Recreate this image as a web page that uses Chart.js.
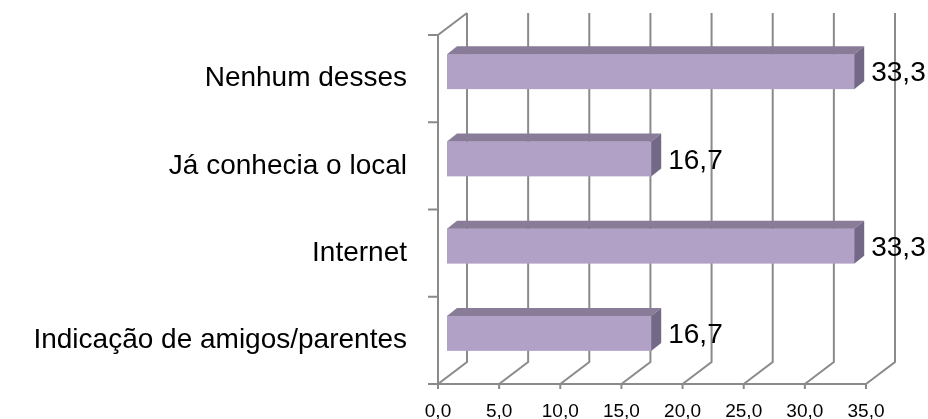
<!DOCTYPE html>
<html>
<head>
<meta charset="utf-8">
<script src="https://cdn.jsdelivr.net/npm/chart.js@4"></script>
<style>
  body { margin: 0; background: #fff; }
  canvas { display: block; }
</style>
</head>
<body>
<canvas id="chart" width="928" height="419"></canvas>
<script>
const categories = ["Nenhum desses", "Já conhecia o local", "Internet", "Indicação de amigos/parentes"];
const values = [33.3, 16.7, 33.3, 16.7];
const xTicks = [0, 5, 10, 15, 20, 25, 30, 35];

const fmt = v => v.toFixed(1).replace(".", ",");

// depth of the back wall, and where the bar box sits inside it
const DX = 29, DY = -22;
const BX = 9, BY = -7;
const SX = 10, SY = -8;
const gridColor = "#8a8a8a";

const depth3d = {
  id: "depth3d",
  beforeDatasetsDraw(chart) {
    const { ctx, chartArea: ca, scales } = chart;
    const xs = scales.x;
    ctx.save();
    ctx.strokeStyle = gridColor;
    ctx.lineWidth = 2;
    ctx.beginPath();
    xTicks.forEach(v => {
      const px = xs.getPixelForValue(v);
      ctx.moveTo(px + DX, ca.top + DY);
      ctx.lineTo(px + DX, ca.bottom + DY);
      ctx.lineTo(px, ca.bottom);
      ctx.moveTo(px, ca.bottom);
      ctx.lineTo(px, ca.bottom + 5);
    });
    // left wall and floor edge
    ctx.moveTo(ca.left + DX, ca.top + DY);
    ctx.lineTo(ca.left, ca.top);
    ctx.lineTo(ca.left, ca.bottom);
    ctx.lineTo(ca.right, ca.bottom);
    const band = (ca.bottom - ca.top) / categories.length;
    for (let i = 0; i <= categories.length; i++) {
      const y = ca.top + i * band;
      ctx.moveTo(ca.left - 10, y);
      ctx.lineTo(ca.left, y);
    }
    ctx.stroke();
    ctx.restore();
  },
  afterDatasetsDraw(chart) {
    const { ctx } = chart;
    const meta = chart.getDatasetMeta(0);
    ctx.save();
    meta.data.forEach((bar, i) => {
      const x0 = bar.base + BX, x1 = bar.x + BX;
      const top = bar.y - bar.height / 2 + BY, bot = bar.y + bar.height / 2 + BY;
      ctx.fillStyle = "#B2A1C7";
      ctx.fillRect(x0, top, x1 - x0, bot - top);
      ctx.fillStyle = "#887C99";
      ctx.beginPath();
      ctx.moveTo(x0, top);
      ctx.lineTo(x1, top);
      ctx.lineTo(x1 + SX, top + SY);
      ctx.lineTo(x0 + SX, top + SY);
      ctx.closePath();
      ctx.fill();
      ctx.fillStyle = "#736885";
      ctx.beginPath();
      ctx.moveTo(x1, top);
      ctx.lineTo(x1 + SX, top + SY);
      ctx.lineTo(x1 + SX, bot + SY);
      ctx.lineTo(x1, bot);
      ctx.closePath();
      ctx.fill();
      ctx.fillStyle = "#000";
      ctx.font = "28px 'Liberation Sans', sans-serif";
      ctx.textBaseline = "middle";
      ctx.textAlign = "left";
      ctx.fillText(fmt(values[i]), x1 + SX + 7, bar.y + BY + 2);
    });
    ctx.restore();
  }
};

const noPad = s => {
  s.paddingTop = 0;
  s.paddingBottom = 0;
  s.paddingLeft = 0;
  s.paddingRight = 0;
};

new Chart(document.getElementById("chart"), {
  type: "bar",
  data: {
    labels: categories,
    datasets: [{
      data: values,
      backgroundColor: "rgba(0,0,0,0)",
      barThickness: 35
    }]
  },
  options: {
    indexAxis: "y",
    responsive: false,
    animation: false,
    layout: { padding: { top: 35, right: 62, left: 0, bottom: 0 } },
    plugins: { legend: { display: false }, tooltip: { enabled: false } },
    scales: {
      x: {
        min: 0,
        max: 35,
        grid: { display: false, drawTicks: false },
        border: { display: false },
        ticks: {
          stepSize: 5,
          color: "#000",
          padding: 16,
          font: { family: "'Liberation Sans', sans-serif", size: 19 },
          callback: v => fmt(v)
        },
        afterFit: s => { s.height = 35; noPad(s); }
      },
      y: {
        grid: { display: false, drawTicks: false },
        border: { display: false },
        ticks: {
          color: "#000",
          padding: 31,
          font: { family: "'Liberation Sans', sans-serif", size: 28 }
        },
        afterFit: s => { s.width = 438; noPad(s); }
      }
    }
  },
  plugins: [depth3d]
});
</script>
</body>
</html>
